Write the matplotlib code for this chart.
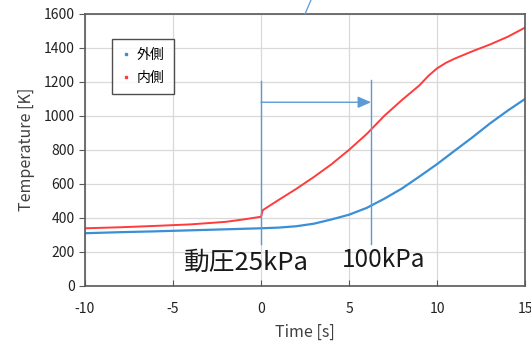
import matplotlib.pyplot as plt
from matplotlib.lines import Line2D

plt.rcParams['font.family'] = ['Noto Sans CJK JP', 'DejaVu Sans']
plt.rcParams['axes.unicode_minus'] = False

# outer side (blue)
t_out = [-10, -8, -6, -4, -2, 0, 1, 2, 3, 4, 5, 6, 7, 8, 9, 10, 11, 12, 13, 14, 15]
temp_out = [309, 315, 320, 326, 332, 338, 342, 350, 365, 390, 418, 458, 512, 572, 643, 716,
            795, 873, 955, 1030, 1100]

# inner side (red)
t_in = [-10, -8, -6, -4, -2, -1, 0, 0.1, 1, 2, 3, 4, 5, 6, 7, 8, 9, 9.5, 10, 10.5, 11, 12, 13, 14, 15]
temp_in = [338, 344, 352, 361, 376, 390, 406, 445, 505, 570, 640, 715, 800, 893, 1000, 1093,
           1180, 1235, 1280, 1312, 1337, 1380, 1420, 1465, 1520]

series_names = ['外側', '内側']
xticks = [-10, -5, 0, 5, 10, 15]
yticks = [0, 200, 400, 600, 800, 1000, 1200, 1400, 1600]

blue = '#3a8fd6'
red = '#ff3b3b'
note = '#5b9bd5'
spine = '#595959'

fig = plt.figure(figsize=(5.31, 3.44), dpi=100)
ax = fig.add_axes([0.160, 0.1695, 0.829, 0.790])

ax.plot(t_out, temp_out, color=blue, lw=1.6, label=series_names[0])
ax.plot(t_in, temp_in, color=red, lw=1.4, label=series_names[1])

ax.set_xlim(-10, 15)
ax.set_ylim(0, 1600)
ax.set_xticks(xticks)
ax.set_yticks(yticks)
ax.grid(True, color='#d9d9d9', lw=0.9)
ax.set_axisbelow(True)
for s in ax.spines.values():
    s.set_color(spine)
    s.set_linewidth(1.2)
ax.tick_params(axis='x', direction='in', length=4, color=spine, labelsize=10, pad=12, labelcolor='#222222')
ax.tick_params(axis='y', direction='out', length=4, color=spine, labelsize=10, labelcolor='#222222')
ax.set_xlabel('Time [s]', fontsize=11.5, color='#404040', labelpad=5)
ax.set_ylabel('Temperature [K]', fontsize=11.5, color='#404040', labelpad=6)

# annotation lines
ax.plot([0, 0], [246, 1205], color=note, lw=1.0)
ax.plot([6.25, 6.25], [246, 1210], color=note, lw=1.0)
ax.annotate('', xy=(6.25, 1080), xytext=(0, 1080),
            arrowprops=dict(arrowstyle='-|>,head_length=0.8,head_width=0.35', color=note, lw=1.0,
                            shrinkA=0, shrinkB=0))
ax.text(-4.4, 95, '動圧25kPa', fontsize=18.5, color='#1a1a1a')
ax.text(4.6, 108, '100kPa', fontsize=17.5, color='#1a1a1a')

leg = ax.legend(handlelength=0.6, handletextpad=0.5, loc='upper left', bbox_to_anchor=(0.045, 0.935),
                fontsize=10, frameon=True, fancybox=False, borderpad=0.7, labelspacing=0.6)
leg.get_frame().set_edgecolor('#222222')
leg.get_frame().set_linewidth(1.0)
for h in leg.get_lines():
    h.set_linestyle('none')
    h.set_marker('s')
    h.set_markersize(1.8)

# stray connector line above the plot
fig.add_artist(Line2D([305 / 531, 311 / 531], [1 - 14 / 344, 1.0], color=note, lw=0.9))

fig.savefig('out.png', dpi=100)
